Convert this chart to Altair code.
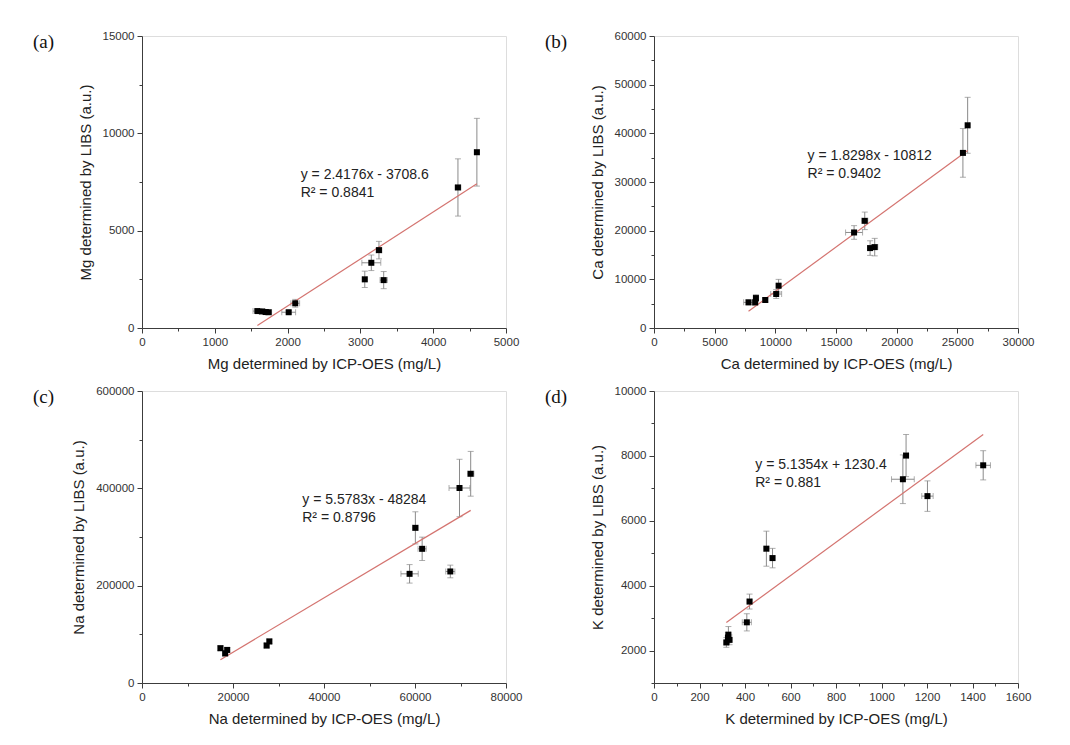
import altair as alt
import pandas as pd

# ---------------- data ----------------
mg_icp = [1585, 1650, 1700, 1740, 2015, 2105, 3060, 3150, 3255, 3320, 4340, 4600]
mg_libs = [870, 850, 820, 810, 810, 1270, 2500, 3350, 4000, 2460, 7220, 9030]
mg_icp_err = [60, 40, 40, 40, 95, 60, 30, 130, 40, 50, 40, 30]
mg_libs_err = [80, 60, 60, 60, 80, 200, 420, 400, 450, 440, 1470, 1740]

ca_icp = [7790, 8340, 8400, 9170, 10070, 10270, 16490, 17370, 17810, 18190, 25460, 25850]
ca_libs = [5270, 5270, 6150, 5750, 6980, 8690, 19630, 22020, 16420, 16620, 35980, 41650]
ca_icp_err = [400, 200, 200, 200, 450, 150, 700, 250, 200, 250, 200, 150]
ca_libs_err = [500, 600, 700, 400, 900, 1300, 1400, 1800, 1500, 1800, 5000, 5750]

na_icp = [17240, 18280, 18730, 27390, 27990, 58810, 60080, 61570, 67760, 69780, 72240]
na_libs = [71500, 61000, 68000, 77000, 85400, 224300, 318800, 275700, 229200, 400700, 429900]
na_icp_err = [500, 500, 500, 500, 500, 1900, 600, 900, 1000, 2300, 700]
na_libs_err = [5000, 6000, 5000, 5000, 5000, 19000, 33000, 24000, 13000, 59000, 46000]

k_icp = [318, 325, 327, 332, 408, 420, 494, 521, 1094, 1108, 1202, 1447]
k_libs = [2250, 2400, 2490, 2330, 2870, 3510, 5140, 4850, 7280, 8010, 6760, 7710]
k_icp_err = [10, 10, 10, 10, 20, 10, 10, 10, 50, 10, 25, 32]
k_libs_err = [150, 150, 250, 150, 265, 230, 540, 300, 750, 650, 470, 450]

slopes = [2.4176, 1.8298, 5.5783, 5.1354]
intercepts = [-3708.6, -10812, -48284, 1230.4]
equations = ["y = 2.4176x - 3708.6", "y = 1.8298x - 10812", "y = 5.5783x - 48284", "y = 5.1354x + 1230.4"]
r2_texts = ["R² = 0.8841", "R² = 0.9402", "R² = 0.8796", "R² = 0.881"]
eq_pos_x = [2180, 12660, 35220, 445]
eq_pos_y = [7840, 35360, 375700, 7710]
panel_labels = ["(a)", "(b)", "(c)", "(d)"]
elements = ["Mg", "Ca", "Na", "K"]

x_domains = [[0, 5000], [0, 30000], [0, 80000], [0, 1600]]
y_domains = [[0, 15000], [0, 60000], [0, 600000], [1000, 10000]]
x_ticks = [list(range(0, 5001, 500)), list(range(0, 30001, 2500)),
           list(range(0, 80001, 10000)), list(range(0, 1601, 100))]
x_major = [1000, 5000, 20000, 200]
y_ticks = [list(range(0, 15001, 2500)), list(range(0, 60001, 5000)),
           list(range(0, 600001, 100000)), list(range(1000, 10001, 1000))]
y_major = [5000, 10000, 200000, 2000]

SANS = "Liberation Sans"
SERIF = "Liberation Serif"
ERR = "#8a8a8a"
FIT = "#d47470"
AXC = "#3c3c3c"
W, H = 364, 292


def make_axis(title, vals, major):
    return alt.Axis(
        title=title, values=vals, format="d",
        labelExpr=f"datum.value % {major} === 0 ? datum.label : ''",
        tickSize={"condition": {"test": f"datum.value % {major} === 0", "value": 5}, "value": 3},
        labelFlush=False, labelOverlap=False, grid=False,
        domainColor=AXC, tickColor=AXC, domainWidth=1, tickWidth=1,
        labelFont=SANS, labelFontSize=11.5, labelColor="#333333", labelPadding=3,
        titleFont=SANS, titleFontSize=15, titleFontWeight="normal", titleColor="#222222",
        titlePadding=9,
    )


def panel(i, xs, ys, xe, ye):
    df = pd.DataFrame({"x": xs, "y": ys})
    df["xlo"] = [a - b for a, b in zip(xs, xe)]
    df["xhi"] = [a + b for a, b in zip(xs, xe)]
    df["ylo"] = [a - b for a, b in zip(ys, ye)]
    df["yhi"] = [a + b for a, b in zip(ys, ye)]

    xscale = alt.Scale(domain=x_domains[i], nice=False, zero=False)
    yscale = alt.Scale(domain=y_domains[i], nice=False, zero=False)
    xaxis = make_axis(f"{elements[i]} determined by ICP-OES (mg/L)", x_ticks[i], x_major[i])
    yaxis = make_axis(f"{elements[i]} determined by LIBS (a.u.)", y_ticks[i], y_major[i])

    def X(f):
        return alt.X(f, type="quantitative", scale=xscale, axis=xaxis)

    def Y(f):
        return alt.Y(f, type="quantitative", scale=yscale, axis=yaxis)

    base = alt.Chart(df)
    yerr = base.mark_rule(color=ERR, strokeWidth=1).encode(x=X("x"), y=Y("ylo"), y2="yhi")
    ycap1 = base.mark_tick(color=ERR, orient="horizontal", size=6, thickness=1).encode(x=X("x"), y=Y("ylo"))
    ycap2 = base.mark_tick(color=ERR, orient="horizontal", size=6, thickness=1).encode(x=X("x"), y=Y("yhi"))
    xerr = base.mark_rule(color=ERR, strokeWidth=1).encode(x=X("xlo"), x2="xhi", y=Y("y"))
    xcap1 = base.mark_tick(color=ERR, orient="vertical", size=6, thickness=1).encode(x=X("xlo"), y=Y("y"))
    xcap2 = base.mark_tick(color=ERR, orient="vertical", size=6, thickness=1).encode(x=X("xhi"), y=Y("y"))

    fx = [min(xs), max(xs)]
    fit_df = pd.DataFrame({"x": fx, "y": [slopes[i] * v + intercepts[i] for v in fx]})
    fit = alt.Chart(fit_df).mark_line(color=FIT, strokeWidth=1.2).encode(x=X("x"), y=Y("y"))

    pts = base.mark_square(size=36, color="black", opacity=1).encode(x=X("x"), y=Y("y"))

    eq_df = pd.DataFrame({"tx": [eq_pos_x[i]], "ty": [eq_pos_y[i]],
                          "t": [equations[i] + "\n" + r2_texts[i]]})
    eq = alt.Chart(eq_df).mark_text(
        align="left", baseline="middle", font=SANS, fontSize=14, lineBreak="\n",
        lineHeight=18, color="#222222"
    ).encode(x=X("tx"), y=Y("ty"), text="t")

    lab_df = pd.DataFrame({"t": [panel_labels[i]]})
    lab = alt.Chart(lab_df).mark_text(
        align="left", baseline="middle", font=SERIF, fontSize=19, color="#111111"
    ).encode(x=alt.value(-109), y=alt.value(6), text="t")

    return alt.layer(yerr, ycap1, ycap2, xerr, xcap1, xcap2, fit, pts, eq, lab).properties(width=W, height=H)


pa = panel(0, mg_icp, mg_libs, mg_icp_err, mg_libs_err)
pb = panel(1, ca_icp, ca_libs, ca_icp_err, ca_libs_err)
pc = panel(2, na_icp, na_libs, na_icp_err, na_libs_err)
pd_ = panel(3, k_icp, k_libs, k_icp_err, k_libs_err)

chart = alt.concat(pa, pb, pc, pd_, columns=2, spacing={"row": 12, "column": 21}).properties(
    padding={"left": 24, "top": 21, "right": 5, "bottom": 5}
).configure_view(stroke=None).configure(background="white")

chart.save("out.html", embed_options={"renderer": "svg", "actions": False})
